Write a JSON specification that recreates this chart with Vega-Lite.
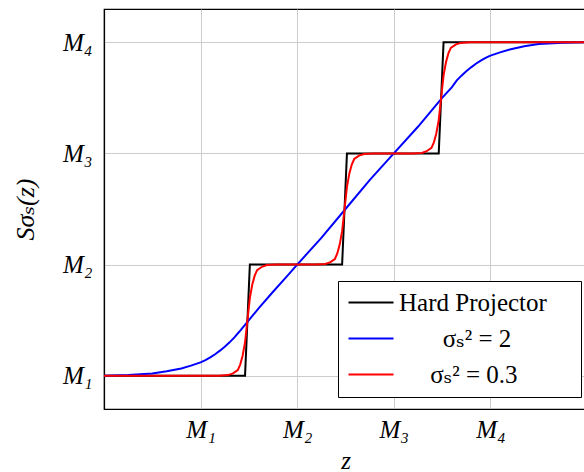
{
  "$schema": "https://vega.github.io/schema/vega-lite/v6.json",
  "autosize": "none",
  "width": 483,
  "height": 400,
  "padding": {"left": 104, "top": 9, "right": 0, "bottom": 63},
  "background": "white",
  "config": {
    "view": {"stroke": "black", "strokeWidth": 1.2},
    "font": "Liberation Serif, DejaVu Serif, serif"
  },
  "data": {
    "values": [
      {"z": 0, "S": 1, "series": "Hard Projector"},
      {"z": 1.46, "S": 1, "series": "Hard Projector"},
      {"z": 1.51, "S": 2, "series": "Hard Projector"},
      {"z": 2.465, "S": 2, "series": "Hard Projector"},
      {"z": 2.515, "S": 3, "series": "Hard Projector"},
      {"z": 3.465, "S": 3, "series": "Hard Projector"},
      {"z": 3.515, "S": 4, "series": "Hard Projector"},
      {"z": 5, "S": 4, "series": "Hard Projector"},

      {"z": 0, "S": 1.0, "series": "s2"},
      {"z": 0.25, "S": 1.005, "series": "s2"},
      {"z": 0.5, "S": 1.02, "series": "s2"},
      {"z": 0.65, "S": 1.04, "series": "s2"},
      {"z": 0.8, "S": 1.065, "series": "s2"},
      {"z": 0.9, "S": 1.09, "series": "s2"},
      {"z": 1.0, "S": 1.12, "series": "s2"},
      {"z": 1.05, "S": 1.14, "series": "s2"},
      {"z": 1.1, "S": 1.165, "series": "s2"},
      {"z": 1.15, "S": 1.193, "series": "s2"},
      {"z": 1.2, "S": 1.225, "series": "s2"},
      {"z": 1.25, "S": 1.26, "series": "s2"},
      {"z": 1.3, "S": 1.3, "series": "s2"},
      {"z": 1.35, "S": 1.345, "series": "s2"},
      {"z": 1.4, "S": 1.395, "series": "s2"},
      {"z": 1.5, "S": 1.5, "series": "s2"},
      {"z": 1.6, "S": 1.605, "series": "s2"},
      {"z": 1.75, "S": 1.755, "series": "s2"},
      {"z": 1.9, "S": 1.9, "series": "s2"},
      {"z": 2.0, "S": 2.0, "series": "s2"},
      {"z": 2.25, "S": 2.24, "series": "s2"},
      {"z": 2.5, "S": 2.5, "series": "s2"},
      {"z": 2.75, "S": 2.76, "series": "s2"},
      {"z": 3.0, "S": 3.0, "series": "s2"},
      {"z": 3.25, "S": 3.24, "series": "s2"},
      {"z": 3.5, "S": 3.5, "series": "s2"},
      {"z": 3.6, "S": 3.595, "series": "s2"},
      {"z": 3.65, "S": 3.655, "series": "s2"},
      {"z": 3.7, "S": 3.7, "series": "s2"},
      {"z": 3.75, "S": 3.74, "series": "s2"},
      {"z": 3.8, "S": 3.775, "series": "s2"},
      {"z": 3.85, "S": 3.807, "series": "s2"},
      {"z": 3.9, "S": 3.835, "series": "s2"},
      {"z": 3.95, "S": 3.86, "series": "s2"},
      {"z": 4.0, "S": 3.88, "series": "s2"},
      {"z": 4.1, "S": 3.91, "series": "s2"},
      {"z": 4.2, "S": 3.935, "series": "s2"},
      {"z": 4.35, "S": 3.965, "series": "s2"},
      {"z": 4.5, "S": 3.985, "series": "s2"},
      {"z": 4.75, "S": 3.997, "series": "s2"},
      {"z": 5.0, "S": 4.0, "series": "s2"},

      {"z": 0, "S": 1.0, "series": "s03"},
      {"z": 1.185, "S": 1.0, "series": "s03"},
      {"z": 1.285, "S": 1.005, "series": "s03"},
      {"z": 1.335, "S": 1.02, "series": "s03"},
      {"z": 1.385, "S": 1.05, "series": "s03"},
      {"z": 1.41, "S": 1.1, "series": "s03"},
      {"z": 1.435, "S": 1.18, "series": "s03"},
      {"z": 1.46, "S": 1.3, "series": "s03"},
      {"z": 1.485, "S": 1.5, "series": "s03"},
      {"z": 1.51, "S": 1.7, "series": "s03"},
      {"z": 1.535, "S": 1.82, "series": "s03"},
      {"z": 1.56, "S": 1.9, "series": "s03"},
      {"z": 1.585, "S": 1.95, "series": "s03"},
      {"z": 1.635, "S": 1.98, "series": "s03"},
      {"z": 1.685, "S": 1.995, "series": "s03"},
      {"z": 1.785, "S": 2.0, "series": "s03"},
      {"z": 2.19, "S": 2.0, "series": "s03"},
      {"z": 2.29, "S": 2.005, "series": "s03"},
      {"z": 2.34, "S": 2.02, "series": "s03"},
      {"z": 2.39, "S": 2.05, "series": "s03"},
      {"z": 2.415, "S": 2.1, "series": "s03"},
      {"z": 2.44, "S": 2.18, "series": "s03"},
      {"z": 2.465, "S": 2.3, "series": "s03"},
      {"z": 2.49, "S": 2.5, "series": "s03"},
      {"z": 2.515, "S": 2.7, "series": "s03"},
      {"z": 2.54, "S": 2.82, "series": "s03"},
      {"z": 2.565, "S": 2.9, "series": "s03"},
      {"z": 2.59, "S": 2.95, "series": "s03"},
      {"z": 2.64, "S": 2.98, "series": "s03"},
      {"z": 2.69, "S": 2.995, "series": "s03"},
      {"z": 2.79, "S": 3.0, "series": "s03"},
      {"z": 3.19, "S": 3.0, "series": "s03"},
      {"z": 3.29, "S": 3.005, "series": "s03"},
      {"z": 3.34, "S": 3.02, "series": "s03"},
      {"z": 3.39, "S": 3.05, "series": "s03"},
      {"z": 3.415, "S": 3.1, "series": "s03"},
      {"z": 3.44, "S": 3.18, "series": "s03"},
      {"z": 3.465, "S": 3.3, "series": "s03"},
      {"z": 3.49, "S": 3.5, "series": "s03"},
      {"z": 3.515, "S": 3.7, "series": "s03"},
      {"z": 3.54, "S": 3.82, "series": "s03"},
      {"z": 3.565, "S": 3.9, "series": "s03"},
      {"z": 3.59, "S": 3.95, "series": "s03"},
      {"z": 3.64, "S": 3.98, "series": "s03"},
      {"z": 3.69, "S": 3.995, "series": "s03"},
      {"z": 3.79, "S": 4.0, "series": "s03"},
      {"z": 5.0, "S": 4.0, "series": "s03"}
    ]
  },
  "mark": {"type": "line", "strokeWidth": 2, "clip": true},
  "encoding": {
    "x": {
      "field": "z", "type": "quantitative",
      "scale": {"domain": [0, 5], "nice": false, "zero": false},
      "axis": {
        "values": [1, 2, 3, 4],
        "labelExpr": "'M' + ['', '₁', '₂', '₃', '₄'][datum.value]",
        "title": "z",
        "titleFont": "Liberation Serif, DejaVu Serif, serif", "titleFontStyle": "italic", "titleFontWeight": "normal", "titleFontSize": 25, "titleColor": "black",
        "titlePadding": 6,
        "labelFont": "Liberation Serif, DejaVu Serif, serif", "labelFontStyle": "italic", "labelFontSize": 25, "labelColor": "black",
        "labelPadding": 8,
        "ticks": false,
        "domainColor": "black", "domainWidth": 1.2,
        "gridColor": "#cccccc", "gridWidth": 1
      }
    },
    "y": {
      "field": "S", "type": "quantitative",
      "scale": {"domain": [0.7, 4.3], "nice": false, "zero": false},
      "axis": {
        "values": [1, 2, 3, 4],
        "labelExpr": "'M' + ['', '₁', '₂', '₃', '₄'][datum.value]",
        "title": "Sσₛ(z)",
        "titleFont": "Liberation Serif, DejaVu Serif, serif", "titleFontStyle": "italic", "titleFontWeight": "normal", "titleFontSize": 26, "titleColor": "black",
        "titlePadding": 24,
        "labelFont": "Liberation Serif, DejaVu Serif, serif", "labelFontStyle": "italic", "labelFontSize": 25, "labelColor": "black",
        "labelPadding": 12,
        "ticks": false,
        "domainColor": "black", "domainWidth": 1.2,
        "gridColor": "#cccccc", "gridWidth": 1
      }
    },
    "color": {
      "field": "series", "type": "nominal",
      "scale": {"domain": ["Hard Projector", "s2", "s03"], "range": ["#000000", "#0000ff", "#ff0000"]},
      "legend": {
        "title": null,
        "orient": "none",
        "legendX": 234,
        "legendY": 272,
        "direction": "vertical",
        "fillColor": "white",
        "strokeColor": "black",
        "padding": 9,
        "rowPadding": 10,
        "symbolType": "M-2.2,0H6.8",
        "symbolSize": 100,
        "symbolStrokeWidth": 2,
        "symbolFillColor": "transparent",
        "labelOffset": 27,
        "labelFont": "Liberation Serif, DejaVu Serif, serif",
        "labelFontSize": 25,
        "labelColor": "black",
        "labelLimit": 400,
        "labelExpr": "datum.value == 'Hard Projector' ? 'Hard Projector\u00a0\u00a0\u00a0\u00a0\u200b' : datum.value == 's2' ? '\u200b\u00a0\u00a0\u00a0\u00a0\u00a0\u00a0\u00a0σₛ² = 2' : '\u200b\u00a0\u00a0\u00a0\u00a0\u00a0σₛ² = 0.3'"
      }
    }
  }
}
